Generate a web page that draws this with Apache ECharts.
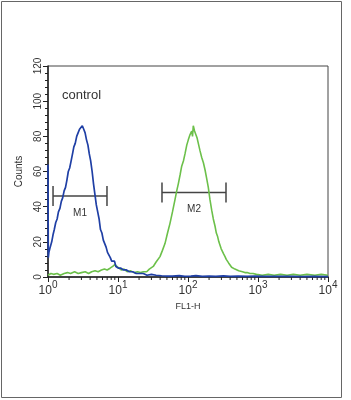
<!DOCTYPE html>
<html>
<head>
<meta charset="utf-8">
<script src="https://cdn.jsdelivr.net/npm/echarts@6/dist/echarts.min.js"></script>
<style>
  html, body { margin: 0; padding: 0; background: #fff; }
  #chart { width: 351px; height: 400px; }
</style>
</head>
<body>
<div id="chart"></div>
<script>
// control histogram (blue) [FL1-H, counts]
var controlData = [
  [1.00, 64], [1.01, 11], [1.03, 14], [1.06, 16], [1.09, 17], [1.13, 20], [1.18, 24], [1.23, 27],
  [1.29, 31], [1.35, 33], [1.41, 37], [1.48, 39], [1.55, 43], [1.62, 45], [1.70, 49], [1.78, 51],
  [1.86, 55], [1.95, 60], [2.04, 62], [2.14, 66], [2.24, 70], [2.34, 74], [2.45, 76], [2.57, 80],
  [2.69, 82], [2.82, 84], [2.95, 83], [3.09, 86], [3.24, 84], [3.39, 82], [3.55, 78], [3.72, 75],
  [3.89, 70], [4.07, 66], [4.27, 60], [4.47, 53], [4.68, 47], [4.90, 41], [5.13, 37], [5.37, 33],
  [5.62, 27], [5.89, 25], [6.17, 21], [6.46, 19], [6.76, 17], [7.08, 14], [7.41, 13], [7.76, 11],
  [8.13, 9], [8.51, 8], [8.91, 9], [9.33, 6], [9.77, 7], [10.2, 5], [11.0, 5], [12.0, 4],
  [13.2, 4], [14.5, 3], [16.2, 3], [18.2, 2], [20.4, 2], [23, 2], [26, 1], [30, 1.5],
  [35, 1], [42, 0.7], [50, 0.5], [60, 0.5], [75, 0.8], [90, 0.4], [110, 0.5], [130, 0.8],
  [160, 0.4], [200, 0.5], [250, 0.3], [320, 0.6], [400, 0.4], [520, 0.5], [700, 0.3], [900, 0.5],
  [1200, 0.3], [1600, 0.4], [2200, 0.3], [3000, 0.3], [4200, 0.2], [6000, 0.3], [10000, 0.2]
];
// antibody histogram (green) [FL1-H, counts]
var sampleData = [
  [1.0, 1], [1.1, 2], [1.2, 1.5], [1.35, 2], [1.5, 1], [1.7, 2], [1.9, 2.5], [2.1, 2],
  [2.4, 3], [2.7, 2], [3.0, 2.5], [3.4, 3], [3.8, 2], [4.2, 3], [4.7, 3.5], [5.2, 3],
  [5.8, 4], [6.4, 4.5], [7.0, 4], [7.7, 5], [8.4, 6], [9.0, 7], [9.6, 6], [10.3, 5],
  [11.2, 4], [12.2, 4.5], [13.5, 3], [15, 3.5], [17, 2.5], [19, 3], [21, 2.5], [23, 3],
  [25.7, 3], [28, 4.5], [31.9, 6], [35, 8.5], [39.8, 11.6], [43, 15], [46.9, 19], [51, 25],
  [55.3, 30.5], [60, 37], [65.2, 44], [69, 49], [72.7, 53], [77, 58], [81.3, 63], [86, 66],
  [90.6, 70], [96, 75], [101, 78], [107, 81], [113, 83], [116, 80], [119, 86], [124, 83],
  [130, 82], [135, 79], [140, 78], [148, 72], [157, 68], [166, 65], [175, 61], [185, 56],
  [195, 51], [206, 44], [218, 38], [230, 33], [243, 29], [254, 25], [265, 23], [276, 20],
  [286, 19], [298, 16], [310, 15], [324, 13], [338, 11.6], [352, 10], [365, 9], [380, 8],
  [398, 7], [420, 5.5], [440, 5], [468, 4.5], [496, 4], [530, 3.5], [560, 3], [600, 3],
  [650, 2.5], [700, 2.5], [769, 2], [850, 2], [950, 1.5], [1150, 1], [1400, 1.5], [1700, 1],
  [2100, 1.5], [2600, 1], [3200, 1.5], [4000, 1], [5000, 1.5], [6500, 1], [8000, 1.5], [10000, 1]
];
// gate markers: [from, to, counts level, label]
var gates = [
  [1.18, 6.96, 46, "M1"],
  [42.5, 349, 48, "M2"]
];
var decades = [1, 10, 100, 1000];
var minorSteps = [2, 3, 4, 5, 6, 7, 8, 9];

var minorTicks = [];
decades.forEach(function (d) {
  minorSteps.forEach(function (m) { minorTicks.push([d * m, 0]); });
});

var chart = echarts.init(document.getElementById("chart"));

chart.setOption({
  animation: false,
  textStyle: { fontFamily: "Liberation Sans" },
  grid: {
    left: 48, right: 23, top: 66, bottom: 123,
    show: true, borderColor: "#444", borderWidth: 1
  },
  graphic: [
    {
      type: "rect",
      shape: { x: 1.5, y: 1.5, width: 340, height: 396 },
      style: { fill: "none", stroke: "#666", lineWidth: 1 }
    },
    {
      type: "text", left: 62, top: 89,
      style: { text: "control", font: "13px Liberation Sans", fill: "#333" }
    }
  ],
  xAxis: {
    type: "log", min: 1, max: 10000, logBase: 10,
    name: "FL1-H", nameLocation: "middle", nameGap: 16,
    nameTextStyle: { fontSize: 9, color: "#333", fontFamily: "Liberation Sans" },
    axisLine: { lineStyle: { color: "#222", width: 1.5 } },
    axisTick: { length: 5, lineStyle: { color: "#222" } },
    splitLine: { show: false },
    axisLabel: {
      margin: 3,
      formatter: function (v) {
        return "{b|10}{s|" + Math.round(Math.log10(v)) + "}";
      },
      rich: {
        b: { fontSize: 12, color: "#333", fontFamily: "Liberation Sans", verticalAlign: "bottom", lineHeight: 17 },
        s: { fontSize: 10, color: "#333", fontFamily: "Liberation Sans", verticalAlign: "top", lineHeight: 17 }
      }
    }
  },
  yAxis: {
    type: "value", min: 0, max: 120, interval: 20,
    name: "Counts", nameLocation: "middle", nameGap: 24,
    nameTextStyle: { fontSize: 10, color: "#333", fontFamily: "Liberation Sans" },
    axisLine: { show: true, lineStyle: { color: "#222", width: 1.5 } },
    axisTick: { show: true, length: 5, lineStyle: { color: "#222" } },
    minorTick: { show: true, splitNumber: 5, length: 3, lineStyle: { color: "#222" } },
    splitLine: { show: false },
    axisLabel: { rotate: 90, margin: 5, fontSize: 10, color: "#333", fontFamily: "Liberation Sans" }
  },
  series: [
    {
      type: "line", data: sampleData, symbol: "none",
      lineStyle: { color: "#6cc04a", width: 1.6 }
    },
    {
      type: "line", data: controlData, symbol: "none",
      lineStyle: { color: "#1f3fa5", width: 1.7 }
    },
    {
      // log-axis minor ticks
      type: "custom", data: minorTicks, silent: true, clip: false,
      renderItem: function (params, api) {
        var p = api.coord([api.value(0), 0]);
        return {
          type: "line",
          shape: { x1: p[0], y1: p[1], x2: p[0], y2: p[1] + 3 },
          style: { stroke: "#222", lineWidth: 1 }
        };
      }
    },
    {
      // M1 / M2 gate markers
      type: "custom", data: gates, silent: true,
      renderItem: function (params, api) {
        var a = api.coord([api.value(0), api.value(2)]);
        var b = api.coord([api.value(1), api.value(2)]);
        var st = { stroke: "#444", lineWidth: 1.5 };
        return {
          type: "group",
          children: [
            { type: "line", shape: { x1: a[0], y1: a[1], x2: b[0], y2: b[1] }, style: st },
            { type: "line", shape: { x1: a[0], y1: a[1] - 10, x2: a[0], y2: a[1] + 10 }, style: st },
            { type: "line", shape: { x1: b[0], y1: b[1] - 10, x2: b[0], y2: b[1] + 10 }, style: st },
            {
              type: "text",
              style: {
                text: gates[params.dataIndex][3], x: (a[0] + b[0]) / 2, y: a[1] + 17,
                align: "center", verticalAlign: "middle",
                font: "10px Liberation Sans", fill: "#333"
              }
            }
          ]
        };
      }
    }
  ]
});
</script>
</body>
</html>
